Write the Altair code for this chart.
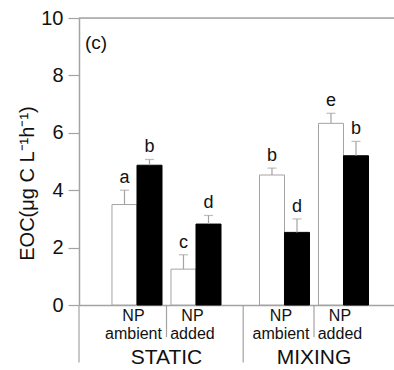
import altair as alt
import pandas as pd

# ---- data ----
sites = ["STATIC", "STATIC", "MIXING", "MIXING"]
nutrients = ["NP ambient", "NP added", "NP ambient", "NP added"]
open_mean = [3.5, 1.25, 4.53, 6.33]
open_se = [0.5, 0.5, 0.24, 0.35]
filled_mean = [4.87, 2.82, 2.53, 5.2]
filled_se = [0.2, 0.3, 0.47, 0.5]
open_letters = ["a", "c", "b", "e"]
filled_letters = ["b", "d", "d", "b"]
y_ticks = [0, 2, 4, 6, 8, 10]
panel_label = "(c)"
y_title = "EOC(μg C L⁻¹h⁻¹)"

# ---- layout helpers (positions derived from category order) ----
site_order = ["STATIC", "MIXING"]
site_gap = 0.5
bar_w = 0.424
W, H = 315, 287
GRAY = "#a3a3a3"
TXT = "#111111"
FONT = "Liberation Sans"

pos = [i + site_gap * site_order.index(s) for i, s in enumerate(sites)]

rows = []
for i in range(len(sites)):
    rows.append(dict(treat="open", x0=pos[i] - bar_w, x1=pos[i], xc=pos[i] - bar_w / 2,
                     mean=open_mean[i], top=open_mean[i] + open_se[i], letter=open_letters[i]))
    rows.append(dict(treat="filled", x0=pos[i], x1=pos[i] + bar_w, xc=pos[i] + bar_w / 2,
                     mean=filled_mean[i], top=filled_mean[i] + filled_se[i], letter=filled_letters[i]))
bars = pd.DataFrame(rows)

labels = pd.DataFrame(dict(pos=[p - 0.06 for p in pos],
                           line1=[n.split(" ")[0] for n in nutrients],
                           line2=[n.split(" ")[1] for n in nutrients]))

site_centers = []
for s in site_order:
    p = [pos[i] for i in range(len(sites)) if sites[i] == s]
    site_centers.append(dict(site=s, pos=(min(p) + max(p)) / 2))
site_df = pd.DataFrame(site_centers)

# separators below the axis: within-site (short), between sites (long)
seps = []
for s in site_order:
    p = [pos[i] for i in range(len(sites)) if sites[i] == s]
    seps.append(dict(pos=(p[0] + p[1]) / 2, depth=-1.12))
seps.append(dict(pos=(pos[1] + pos[2]) / 2 + 0.05, depth=-2.0))
sep_df = pd.DataFrame(seps)

xdom = [-0.983, 4.356]
xscale = alt.Scale(domain=xdom, nice=False, zero=False)
yscale = alt.Scale(domain=[0, 10], nice=False, zero=False)

base = alt.Chart(bars)

bar_layer = base.mark_bar(strokeWidth=1).encode(
    x=alt.X("x0:Q", scale=xscale,
            axis=alt.Axis(labels=False, ticks=False, grid=False, title=None,
                          domainColor=GRAY, domainWidth=1.5)),
    x2="x1:Q",
    y=alt.Y("mean:Q", scale=yscale,
            axis=alt.Axis(values=y_ticks, grid=False, tickSize=11, tickColor=GRAY,
                          tickWidth=1.2, domainColor=GRAY, domainWidth=1.5,
                          labelFontSize=20, labelColor=TXT, labelFont=FONT,
                          labelPadding=5, title=y_title, titleFont=FONT,
                          titleFontSize=20, titleFontWeight="normal", titleColor=TXT,
                          titleAngle=270, titleX=-52, titleY=165,
                          titleAlign="center", titleBaseline="middle")),
    y2=alt.datum(0),
    fill=alt.Fill("treat:N", scale=alt.Scale(domain=["open", "filled"], range=["white", "black"]), legend=None),
    stroke=alt.Stroke("treat:N", scale=alt.Scale(domain=["open", "filled"], range=[GRAY, "black"]), legend=None),
)

stem = base.mark_rule(color=GRAY, strokeWidth=1.2).encode(
    x=alt.X("xc:Q", scale=xscale), y=alt.Y("mean:Q", scale=yscale), y2="top:Q")
cap = base.mark_tick(color=GRAY, orient="horizontal", size=9, thickness=1.2).encode(
    x=alt.X("xc:Q", scale=xscale), y=alt.Y("top:Q", scale=yscale))
letters = base.mark_text(baseline="bottom", dy=-3, fontSize=18, font=FONT, color=TXT).encode(
    x=alt.X("xc:Q", scale=xscale), y=alt.Y("top:Q", scale=yscale), text="letter:N")

top_rule = alt.Chart(pd.DataFrame({"v": [10]})).mark_rule(color=GRAY, strokeWidth=1.5).encode(
    y=alt.Y("v:Q", scale=yscale), x=alt.value(0), x2=alt.value(W))
left_ext = alt.Chart(pd.DataFrame({"v": [0], "d": [-2.0]})).mark_rule(color=GRAY, strokeWidth=1.2).encode(
    x=alt.value(0), y=alt.Y("v:Q", scale=yscale), y2="d:Q")
sep_layer = alt.Chart(sep_df).mark_rule(color=GRAY, strokeWidth=1.2).encode(
    x=alt.X("pos:Q", scale=xscale), y=alt.Y("zero:Q", scale=yscale), y2="depth:Q"
).transform_calculate(zero="0")

lab1 = alt.Chart(labels).mark_text(fontSize=16, font=FONT, color=TXT, baseline="middle").encode(
    x=alt.X("pos:Q", scale=xscale), y=alt.value(298), text="line1:N")
lab2 = alt.Chart(labels).mark_text(fontSize=16, font=FONT, color=TXT, baseline="middle").encode(
    x=alt.X("pos:Q", scale=xscale), y=alt.value(316), text="line2:N")
site_lab = alt.Chart(site_df).mark_text(fontSize=21, font=FONT, color=TXT, baseline="middle").encode(
    x=alt.X("pos:Q", scale=xscale), y=alt.value(340), text="site:N")
panel = alt.Chart(pd.DataFrame({"t": [panel_label]})).mark_text(
    fontSize=19, font=FONT, color=TXT, align="left", baseline="middle").encode(
    x=alt.value(6), y=alt.value(25), text="t:N")

chart = alt.layer(
    bar_layer, stem, cap, letters, top_rule, left_ext, sep_layer, lab1, lab2, site_lab, panel
).properties(
    width=W, height=H,
    autosize=alt.AutoSizeParams(type="none"),
    padding={"left": 79, "top": 18, "right": 0, "bottom": 65},
).configure_view(stroke=None).configure(background="white")

chart.save("out.html", embed_options={"renderer": "svg", "actions": False})
